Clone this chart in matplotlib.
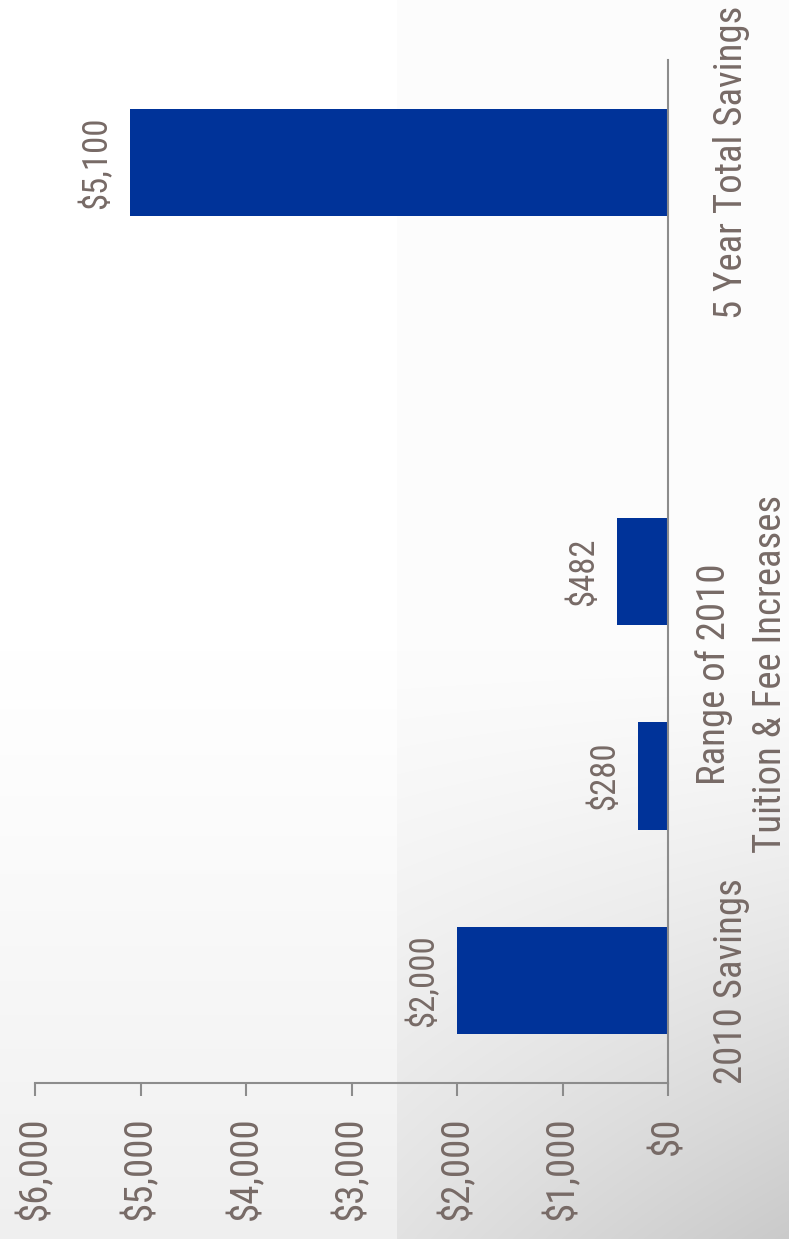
import numpy as np
import matplotlib.pyplot as plt
from matplotlib import font_manager

# Data (chart is drawn rotated 90 degrees, like the reference)
slots = [0, 1, 2, 4]
values = [2000, 280, 482, 5100]
value_labels = ["$2,000", "$280", "$482", "$5,100"]
cat_positions = [0, 1.5, 4]
cat_labels = ["2010 Savings", "Range of 2010\nTuition & Fee Increases", "5 Year Total Savings"]
ticks = [0, 1000, 2000, 3000, 4000, 5000, 6000]
tick_labels = ["$0", "$1,000", "$2,000", "$3,000", "$4,000", "$5,000", "$6,000"]

text_color = "#776a66"
axis_color = "#8c8c8c"
bar_color = "#003399"

# narrow sans like the original; fall back to Liberation Sans
names = {f.name for f in font_manager.fontManager.ttflist}
if "Roboto Condensed" in names:
    plt.rcParams["font.family"] = ["Roboto Condensed", "DejaVu Sans"]
    fs = 28
else:
    plt.rcParams["font.family"] = ["Liberation Sans", "DejaVu Sans"]
    fs = 24
fs_val = fs * 0.89

W, H = 789, 1239
fig = plt.figure(figsize=(W / 100, H / 100), dpi=100)

# slide background: white fading to grey, with a darker panel on the right
yy, xx = np.mgrid[0:H, 0:W].astype(float)
t = np.clip((yy - 650) / 589, 0, 1) ** 1.2
u = np.clip((xx - 397) / 392, 0, 1)
left = 255 - 16 * t
right = 252 - 26 * t - 24 * t * u
bg = np.where(xx < 397, left, right) / 255.0
bax = fig.add_axes([0, 0, 1, 1], zorder=-1)
bax.imshow(np.dstack([bg, bg, bg]), aspect="auto", interpolation="bilinear")
bax.axis("off")

ax = fig.add_axes([35 / W, 1 - 1083 / H, 633 / W, 1023 / H])
ax.set_facecolor("none")
ax.barh(slots, values, height=0.525, color=bar_color)
ax.set_xlim(6000, 0)
ax.set_ylim(-0.5, 4.5)

ax.spines["left"].set_visible(False)
ax.spines["top"].set_visible(False)
for s in ["right", "bottom"]:
    ax.spines[s].set_color(axis_color)
    ax.spines[s].set_linewidth(1.5)

ax.set_xticks(ticks)
ax.set_xticklabels(tick_labels, rotation=90, fontsize=fs, color=text_color)
ax.tick_params(axis="x", length=9, width=1.5, color=axis_color, pad=15)
ax.set_yticks([])

for pos, v, lab in zip(slots, values, value_labels):
    ax.annotate(lab, xy=(v, pos), xytext=(-17, 0), textcoords="offset pixels",
                rotation=90, ha="right", va="center", fontsize=fs_val, color=text_color)

label_offsets = [63, 74, 63]
for pos, lab, off in zip(cat_positions, cat_labels, label_offsets):
    ax.annotate(lab, xy=(0, pos), xytext=(off, 0), textcoords="offset pixels",
                rotation=90, ha="center", va="center", fontsize=fs, color=text_color,
                multialignment="center", linespacing=1.65, annotation_clip=False)

fig.savefig("out.png", dpi=100)
